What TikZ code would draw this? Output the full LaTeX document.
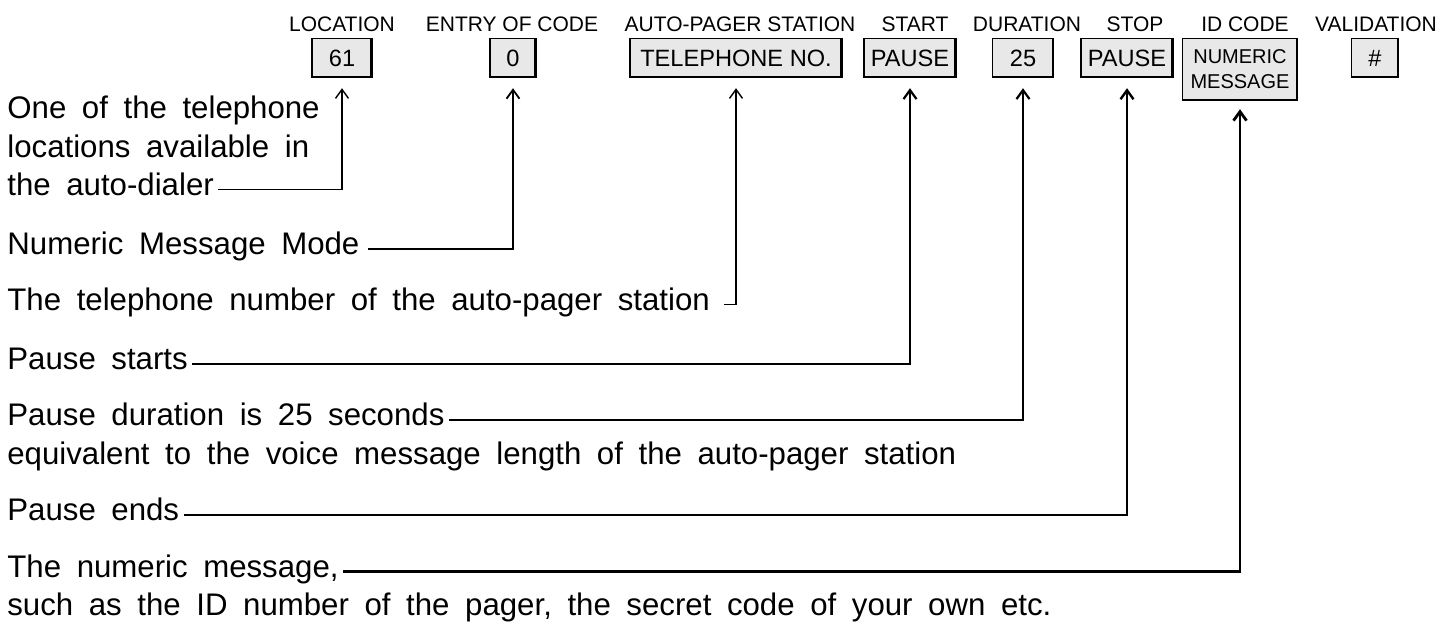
\documentclass[tikz,border=0pt]{standalone}
\usepackage{fontspec}
\setmainfont{Liberation Sans}
\newfontfamily\notefont{Liberation Sans}[WordSpace=1.8]
\usepackage{tikz}
\usetikzlibrary{arrows.meta}

\begin{document}
\begin{tikzpicture}[x=0.5pt, y=-0.5pt,
        >={Straight Barb[length=4.5pt,width=6.5pt]},
        heading/.style={anchor=base, inner sep=0pt, font=\fontsize{10.5}{12}\selectfont},
        keybox/.style={draw, fill=black!9, line width=0.6pt, anchor=north,
            minimum height=19.5pt, inner sep=2pt, align=center,
            font=\fontsize{11.8}{12.5}\selectfont,
            path picture={\draw[line width=1.6pt]
                (path picture bounding box.north east) -- (path picture bounding box.south east)
                -- (path picture bounding box.south west);}},
        note/.style={anchor=base west, inner xsep=2pt, inner ysep=0pt,
            font=\notefont\fontsize{15.6}{18}\selectfont},
        lead/.style={->, line width=0.9pt}]
        \newcommand{\KeyField}[6]{% name, box x, heading x, box options, heading, entry
            \node[heading] (#1-head) at (#3, 31) {#5};
            \node[keybox, #4] (#1) at (#2, 38) {#6};
        }

        \useasboundingbox (0,0) rectangle (1455,622);

        % the dialing sequence
        \KeyField{loc}{342}{342}{minimum width=30pt}{LOCATION}{61}
        \KeyField{entry}{513}{512}{minimum width=23pt}{ENTRY OF CODE}{0}
        \KeyField{tel}{736}{740}{minimum width=106pt}{AUTO-PAGER STATION}{TELEPHONE NO.}
        \KeyField{start}{910}{915}{minimum width=46pt}{START}{PAUSE}
        \KeyField{dur}{1023}{1027}{minimum width=30.5pt}{DURATION}{25}
        \KeyField{stop}{1127}{1135}{minimum width=46pt}{STOP}{PAUSE}
        \KeyField{id}{1240}{1245}{minimum width=57.5pt, minimum height=31pt, inner sep=1pt,
            font=\fontsize{10}{12.5}\selectfont}{ID CODE}{NUMERIC\\MESSAGE}
        \KeyField{valid}{1375}{1376}{minimum width=23.5pt}{VALIDATION}{\#}

        % explanations
        \node[note] (loc1) at (3, 118) {One of the telephone};
        \node[note] (loc2) at (3, 157) {locations available in};
        \node[note] (loc3) at (3, 195) {the auto-dialer};
        \node[note] (mode) at (3, 254) {Numeric Message Mode};
        \node[note] (telno) at (3, 310) {The telephone number of the auto-pager station};
        \node[note] (pstart) at (3, 369) {Pause starts};
        \node[note] (pdur) at (3, 425) {Pause duration is 25 seconds};
        \node[note] (pdur2) at (3, 464) {equivalent to the voice message length of the auto-pager station};
        \node[note] (pend) at (3, 520) {Pause ends};
        \node[note] (msg) at (3, 577) {The numeric message,};
        \node[note] (msg2) at (3, 615) {such as the ID number of the pager, the secret code of your own etc.};

        \draw[lead, line width=0.7pt] (loc3.mid east) -| ([yshift=-5pt]loc.south);
        \draw[lead] ([xshift=2pt]mode.mid east) -| ([yshift=-5pt]entry.south);
        \draw[lead, line width=0.7pt] ([xshift=5pt]telno.mid east) -| ([yshift=-5pt]tel.south);
        \draw[lead, line width=1.1pt] (pstart.mid east) -| ([yshift=-5pt]start.south);
        \draw[lead, line width=1.1pt] (pdur.mid east) -| ([yshift=-5pt]dur.south);
        \draw[lead, line width=1.2pt] (pend.mid east) -| ([yshift=-5pt]stop.south);
        \draw[lead, line width=1.4pt] (msg.mid east) -| ([yshift=-4pt]id.south);
    \end{tikzpicture}
\end{document}
